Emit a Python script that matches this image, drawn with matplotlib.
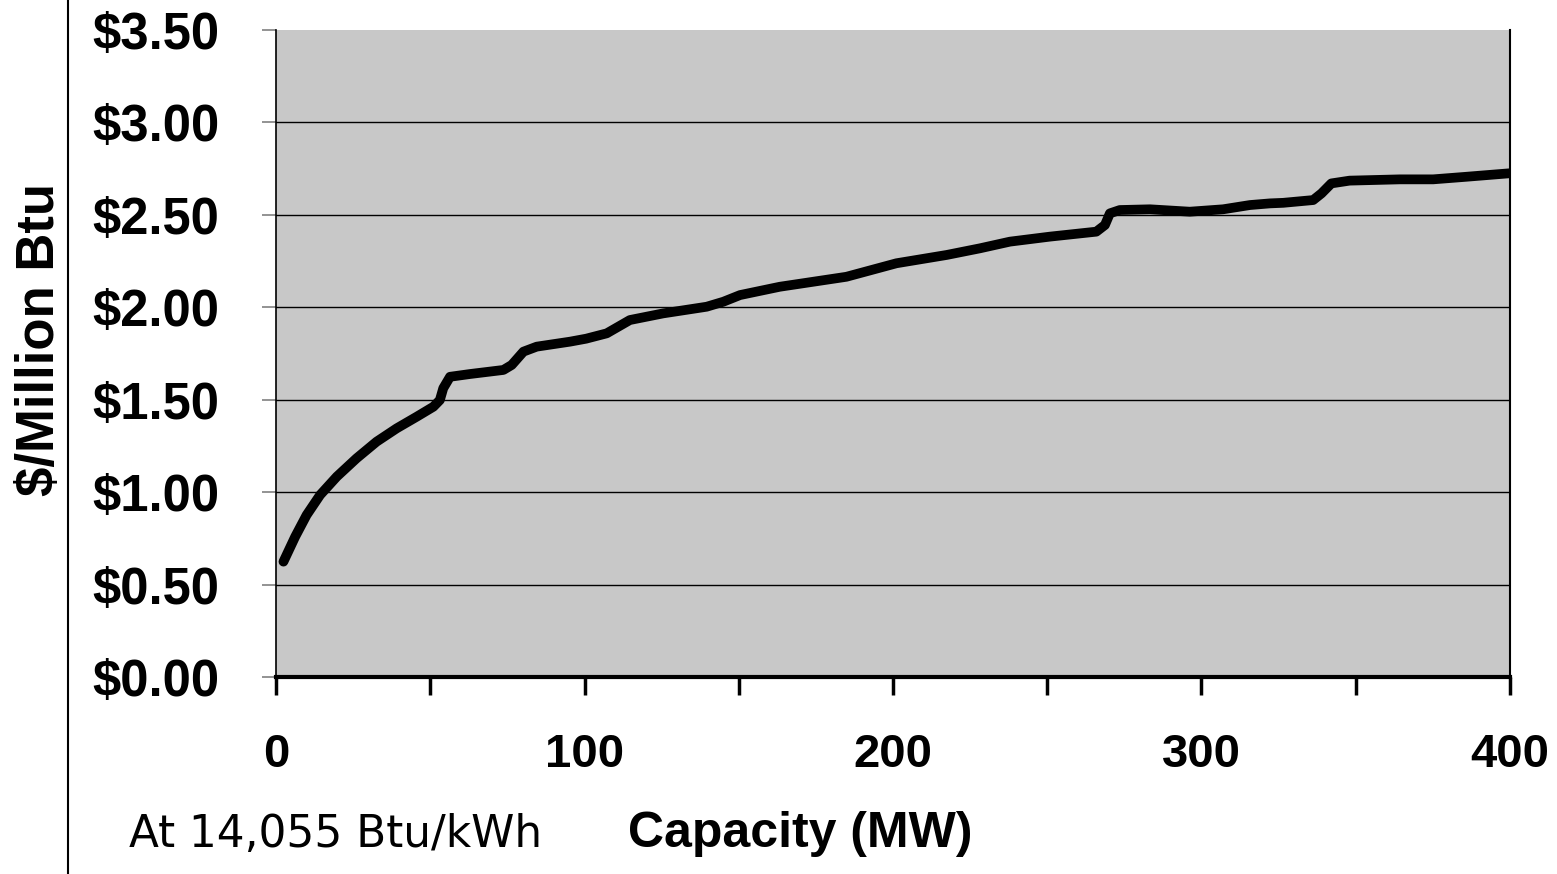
import matplotlib.pyplot as plt
from matplotlib.lines import Line2D

# capacity (MW) vs. cost ($/Million Btu)
capacity = [2.4, 6.2, 9.9, 14.3, 19.7, 26.1, 32.6, 39.1, 45.6, 51.0, 53.1,
            54.2, 56.4, 62.9, 73.7, 76.4, 80.2, 84.5, 95.3, 100.5, 107.2,
            114.7, 125.5, 139.6, 145.0, 150.4, 163.3, 184.9, 201.1, 217.4,
            228.2, 237.9, 250.8, 265.9, 268.7, 270.3, 273.5, 283.3, 296.2,
            307.0, 315.7, 322.2, 326.5, 336.2, 338.9, 342.1, 348.0, 364.3,
            375.1, 385.9, 400.0]
cost = [0.624, 0.759, 0.876, 0.985, 1.084, 1.183, 1.273, 1.345, 1.408, 1.462,
        1.498, 1.562, 1.624, 1.639, 1.661, 1.688, 1.760, 1.787, 1.814, 1.830,
        1.859, 1.931, 1.967, 2.003, 2.030, 2.066, 2.111, 2.165, 2.238, 2.283,
        2.319, 2.355, 2.382, 2.409, 2.445, 2.508, 2.526, 2.530, 2.517, 2.530,
        2.553, 2.562, 2.565, 2.580, 2.616, 2.670, 2.685, 2.692, 2.692, 2.706,
        2.725]

y_ticks = [0.0, 0.5, 1.0, 1.5, 2.0, 2.5, 3.0, 3.5]
y_labels = ['$0.00', '$0.50', '$1.00', '$1.50', '$2.00', '$2.50', '$3.00', '$3.50']
x_ticks = [0, 50, 100, 150, 200, 250, 300, 350, 400]
x_labels = ['0', '', '100', '', '200', '', '300', '', '400']

fig = plt.figure(figsize=(15.57, 8.74), dpi=100, facecolor='white')
ax = fig.add_axes([0.1773, 0.2254, 0.7925, 0.7403])
ax.set_facecolor('#c8c8c8')

for y in y_ticks[1:-1]:
    ax.axhline(y, color='black', lw=1.0, zorder=1)

ax.plot(capacity, cost, color='black', lw=7, solid_joinstyle='round',
        solid_capstyle='round', zorder=3)

ax.set_xlim(0, 400)
ax.set_ylim(0, 3.5)
ax.set_xticks(x_ticks)
ax.set_xticklabels(x_labels)
ax.set_yticks(y_ticks)
ax.set_yticklabels(y_labels)

for lbl in ax.get_xticklabels():
    lbl.set_family('Liberation Sans')
    lbl.set_fontweight('bold')
    lbl.set_fontsize(34)
for lbl in ax.get_yticklabels():
    lbl.set_family('Liberation Sans')
    lbl.set_fontweight('bold')
    lbl.set_fontsize(36.5)

ax.tick_params(axis='y', direction='out', length=10, width=1.2, color='#808080', pad=31)
ax.tick_params(axis='x', direction='out', length=13, width=2.5, color='black', pad=27)

ax.spines['top'].set_visible(False)
ax.spines['left'].set_linewidth(1.2)
ax.spines['right'].set_linewidth(1.5)
ax.spines['bottom'].set_linewidth(3)

ax.set_ylabel('$/Million Btu', fontsize=38, fontweight='bold', family='Liberation Sans',
              labelpad=0)
ax.yaxis.set_label_coords(-0.171, 0.521)

fig.text(0.514, 0.031, 'Capacity (MW)', fontsize=36, fontweight='bold',
         family='Liberation Sans', ha='center', va='baseline')
fig.text(0.083, 0.031, 'At 14,055 Btu/kWh', fontsize=31.5, family='DejaVu Sans',
         ha='left', va='baseline')

# vertical rule on the left edge
fig.add_artist(Line2D([0.0437, 0.0437], [0, 1], transform=fig.transFigure,
                      color='black', lw=1.5))

fig.savefig('out.png', dpi=100, facecolor='white')
